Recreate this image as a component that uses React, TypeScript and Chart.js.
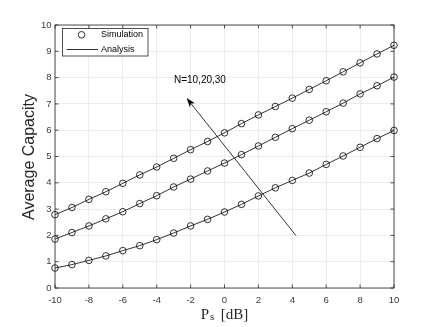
import { useEffect, useRef } from 'react';
import { Chart, registerables } from 'chart.js';

Chart.register(...registerables);

// ---- data ----
const psDb = [-10, -9, -8, -7, -6, -5, -4, -3, -2, -1, 0, 1, 2, 3, 4, 5, 6, 7, 8, 9, 10];
const capacityN10 = [0.76, 0.89, 1.05, 1.22, 1.42, 1.61, 1.84, 2.09, 2.36, 2.61, 2.89, 3.18, 3.5, 3.81, 4.09, 4.37, 4.7, 5.02, 5.35, 5.68, 5.99];
const capacityN20 = [1.86, 2.11, 2.36, 2.63, 2.9, 3.21, 3.51, 3.84, 4.14, 4.45, 4.75, 5.07, 5.4, 5.73, 6.06, 6.38, 6.7, 7.03, 7.38, 7.69, 8.02];
const capacityN30 = [2.79, 3.06, 3.37, 3.66, 3.98, 4.3, 4.6, 4.93, 5.26, 5.57, 5.9, 6.25, 6.58, 6.9, 7.22, 7.55, 7.88, 8.22, 8.56, 8.9, 9.23];
const xTicks = [-10, -8, -6, -4, -2, 0, 2, 4, 6, 8, 10];
const yTicks = [0, 1, 2, 3, 4, 5, 6, 7, 8, 9, 10];
const legendLabels = ['Simulation', 'Analysis'];
const annotationText = 'N=10,20,30';
const arrowFrom = { x: 4.22, y: 1.99 };
const arrowTo = { x: -2.23, y: 7.22 };
const annotationPos = { x: -1.45, y: 7.89 };

const SANS = '"Liberation Sans", Arial, Helvetica, sans-serif';
const SERIF = '"Liberation Serif", "Times New Roman", serif';
const AXIS_COLOR = '#262626';

const toPts = (ys: number[]) => psDb.map((x, i) => ({ x, y: ys[i] }));

const overlay = {
  id: 'overlay',
  afterDatasetsDraw(chart: any) {
    const { ctx, chartArea: a } = chart;
    const xs = chart.scales.x;
    const ys = chart.scales.y;
    ctx.save();
    ctx.strokeStyle = AXIS_COLOR;
    ctx.lineWidth = 0.8;
    ctx.strokeRect(a.left, a.top, a.right - a.left, a.bottom - a.top);
    const tl = 3.5;
    ctx.beginPath();
    xTicks.forEach((t) => {
      const px = xs.getPixelForValue(t);
      ctx.moveTo(px, a.bottom);
      ctx.lineTo(px, a.bottom - tl);
      ctx.moveTo(px, a.top);
      ctx.lineTo(px, a.top + tl);
    });
    yTicks.forEach((t) => {
      const py = ys.getPixelForValue(t);
      ctx.moveTo(a.left, py);
      ctx.lineTo(a.left + tl, py);
      ctx.moveTo(a.right, py);
      ctx.lineTo(a.right - tl, py);
    });
    ctx.stroke();
    ctx.restore();
  },
  afterDraw(chart: any) {
    const { ctx, chartArea: a } = chart;
    const xs = chart.scales.x;
    const ys = chart.scales.y;
    ctx.save();

    // arrow
    const x1 = xs.getPixelForValue(arrowFrom.x);
    const y1 = ys.getPixelForValue(arrowFrom.y);
    const x2 = xs.getPixelForValue(arrowTo.x);
    const y2 = ys.getPixelForValue(arrowTo.y);
    const ang = Math.atan2(y2 - y1, x2 - x1);
    const hl = 9;
    const hw = 3.2;
    ctx.strokeStyle = '#000';
    ctx.fillStyle = '#000';
    ctx.lineWidth = 0.8;
    ctx.beginPath();
    ctx.moveTo(x1, y1);
    ctx.lineTo(x2 - Math.cos(ang) * hl * 0.8, y2 - Math.sin(ang) * hl * 0.8);
    ctx.stroke();
    ctx.beginPath();
    ctx.moveTo(x2, y2);
    ctx.lineTo(x2 - Math.cos(ang) * hl + Math.sin(ang) * hw, y2 - Math.sin(ang) * hl - Math.cos(ang) * hw);
    ctx.lineTo(x2 - Math.cos(ang) * hl * 0.75, y2 - Math.sin(ang) * hl * 0.75);
    ctx.lineTo(x2 - Math.cos(ang) * hl - Math.sin(ang) * hw, y2 - Math.sin(ang) * hl + Math.cos(ang) * hw);
    ctx.closePath();
    ctx.fill();

    // annotation text
    ctx.font = `10px ${SANS}`;
    ctx.textAlign = 'center';
    ctx.textBaseline = 'middle';
    ctx.fillStyle = '#000';
    ctx.fillText(annotationText, xs.getPixelForValue(annotationPos.x), ys.getPixelForValue(annotationPos.y));

    // legend
    const lx = a.left + 7.5;
    const ly = a.top + 3.5;
    const lw = 85.5;
    const lh = 27.5;
    ctx.fillStyle = '#fff';
    ctx.fillRect(lx, ly, lw, lh);
    ctx.strokeStyle = AXIS_COLOR;
    ctx.lineWidth = 0.8;
    ctx.strokeRect(lx, ly, lw, lh);
    ctx.strokeStyle = '#000';
    ctx.beginPath();
    ctx.arc(lx + 19, ly + 6.3, 3.3, 0, Math.PI * 2);
    ctx.stroke();
    ctx.beginPath();
    ctx.moveTo(lx + 4, ly + 21);
    ctx.lineTo(lx + 35.5, ly + 21);
    ctx.stroke();
    ctx.fillStyle = '#000';
    ctx.font = `9px ${SANS}`;
    ctx.textAlign = 'left';
    ctx.textBaseline = 'middle';
    ctx.fillText(legendLabels[0], lx + 38.5, ly + 6.5);
    ctx.fillText(legendLabels[1], lx + 38.5, ly + 21);

    // y title
    ctx.save();
    ctx.translate(30, (a.top + a.bottom) / 2 + 0.5);
    ctx.rotate(-Math.PI / 2);
    ctx.font = `16px ${SANS}`;
    ctx.fillStyle = AXIS_COLOR;
    ctx.textAlign = 'center';
    ctx.textBaseline = 'middle';
    ctx.fillText('Average Capacity', 0, 0);
    ctx.restore();

    // x title: P_s [dB]
    const bigFont = `15px ${SERIF}`;
    const smallFont = `11px ${SERIF}`;
    ctx.fillStyle = AXIS_COLOR;
    ctx.textBaseline = 'alphabetic';
    ctx.textAlign = 'left';
    ctx.font = bigFont;
    const wP = ctx.measureText('P').width;
    const wRest = ctx.measureText('[dB]').width;
    ctx.font = smallFont;
    const wS = ctx.measureText('s').width;
    const gapS = 0.8;
    const gap = 6.5;
    const total = wP + gapS + wS + gap + wRest;
    const cx = (a.left + a.right) / 2;
    let tx = cx - total / 2;
    const base = 319;
    ctx.font = bigFont;
    ctx.fillText('P', tx, base);
    tx += wP + gapS;
    ctx.font = smallFont;
    ctx.fillText('s', tx, base + 0.8);
    tx += wS + gap;
    ctx.font = bigFont;
    ctx.fillText('[dB]', tx, base);

    ctx.restore();
  },
};

export default function App() {
  const ref = useRef<HTMLCanvasElement | null>(null);
  useEffect(() => {
    if (!ref.current) return;
    const lineDs = (ys: number[]) => ({
      type: 'line' as const,
      data: toPts(ys),
      borderColor: '#000',
      borderWidth: 0.8,
      pointRadius: 0,
      fill: false,
      tension: 0,
      clip: false as any,
    });
    const markDs = (ys: number[]) => ({
      type: 'scatter' as const,
      data: toPts(ys),
      borderColor: '#000',
      backgroundColor: 'rgba(0,0,0,0)',
      borderWidth: 0.8,
      pointRadius: 3.3,
      pointStyle: 'circle',
      showLine: false,
      clip: false as any,
    });
    const chart = new Chart(ref.current, {
      type: 'scatter',
      data: {
        datasets: [
          lineDs(capacityN10),
          lineDs(capacityN20),
          lineDs(capacityN30),
          markDs(capacityN10),
          markDs(capacityN20),
          markDs(capacityN30),
        ] as any,
      },
      options: {
        responsive: false,
        animation: false,
        devicePixelRatio: 1,
        layout: { padding: { left: 15, right: 42, top: 25, bottom: 0 } },
        plugins: { legend: { display: false }, tooltip: { enabled: false } },
        scales: {
          x: {
            type: 'linear',
            min: -10,
            max: 10,
            afterBuildTicks: (s: any) => {
              s.ticks = xTicks.map((v) => ({ value: v }));
            },
            afterFit: (s: any) => {
              s.height = 39;
            },
            ticks: {
              font: { family: SANS, size: 9.5 },
              color: '#3a3a3a',
              padding: 7,
              maxRotation: 0,
              autoSkip: false,
            },
            grid: { color: '#e8e8e8', lineWidth: 0.8, drawTicks: false },
            border: { display: false },
          },
          y: {
            type: 'linear',
            min: 0,
            max: 10,
            afterBuildTicks: (s: any) => {
              s.ticks = yTicks.map((v) => ({ value: v }));
            },
            afterFit: (s: any) => {
              s.width = 40;
            },
            ticks: {
              font: { family: SANS, size: 9.5 },
              color: '#3a3a3a',
              padding: 3.5,
              autoSkip: false,
            },
            grid: { color: '#e8e8e8', lineWidth: 0.8, drawTicks: false },
            border: { display: false },
          },
        },
      },
      plugins: [overlay],
    });
    return () => chart.destroy();
  }, []);
  return (
    <div style={{ position: 'fixed', left: 0, top: 0, width: 436, height: 327, background: '#fff' }}>
      <canvas ref={ref} width={436} height={327} style={{ display: 'block', width: 436, height: 327 }} />
    </div>
  );
}
